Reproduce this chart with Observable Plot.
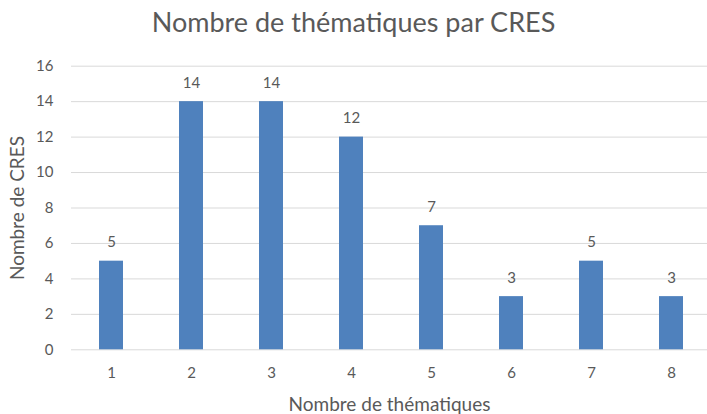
<!DOCTYPE html>
<html>
<head>
<meta charset="utf-8">
<script src="https://cdn.jsdelivr.net/npm/d3@7"></script>
<script src="https://cdn.jsdelivr.net/npm/@observablehq/plot@0.6"></script>
<style>
  html, body { margin: 0; padding: 0; background: #fff; }
  #wrap { width: 707px; height: 414px; overflow: hidden; font-family: Lato, "Open Sans", sans-serif; }
  #title { height: 44px; line-height: 44px; text-align: center; font-size: 27px; color: #595959; }
  #chart svg { display: block; }
</style>
</head>
<body>
<div id="wrap">
  <div id="title">Nombre de thématiques par CRES</div>
  <div id="chart"></div>
</div>
<script>
const categories = ["1", "2", "3", "4", "5", "6", "7", "8"];
const values = [5, 14, 14, 12, 7, 3, 5, 3];
const yTicks = [0, 2, 4, 6, 8, 10, 12, 14, 16];
const xLabel = "Nombre de thématiques";
const yLabel = "Nombre de CRES";

const data = categories.map((c, i) => ({cat: c, val: values[i]}));
const textColor = "#595959";

const chart = Plot.plot({
  width: 707,
  height: 370,
  marginLeft: 71,
  marginRight: 0,
  marginTop: 21.7,
  marginBottom: 64.7,
  style: {fontFamily: "Lato, 'Open Sans', sans-serif", fontSize: "15px", color: textColor, background: "white"},
  x: {domain: categories, range: [71, 711], paddingInner: 0.696, paddingOuter: 0.348, align: 0.5},
  y: {domain: [0, 16]},
  marks: [
    Plot.gridY(yTicks, {stroke: "#d9d9d9", strokeOpacity: 1, strokeWidth: 1}),
    Plot.barY(data, {x: "cat", y: "val", fill: "#4f81bd"}),
    Plot.text(data, {x: "cat", y: "val", text: d => String(d.val), dy: -18.5, fill: textColor, fontSize: 15}),
    Plot.axisY(yTicks, {tickSize: 0, tickPadding: 18, fontSize: 15, fill: textColor, label: null}),
    Plot.axisX({tickSize: 0, tickPadding: 18, fontSize: 15, fill: textColor, label: null}),
    Plot.text([xLabel], {frameAnchor: "bottom", dy: 61, fontSize: 19, fill: textColor, text: d => d}),
    Plot.text([yLabel], {frameAnchor: "left", textAnchor: "middle", dx: -54, rotate: -90, fontSize: 19, fill: textColor, text: d => d})
  ]
});
document.getElementById("chart").appendChild(chart);
</script>
</body>
</html>
